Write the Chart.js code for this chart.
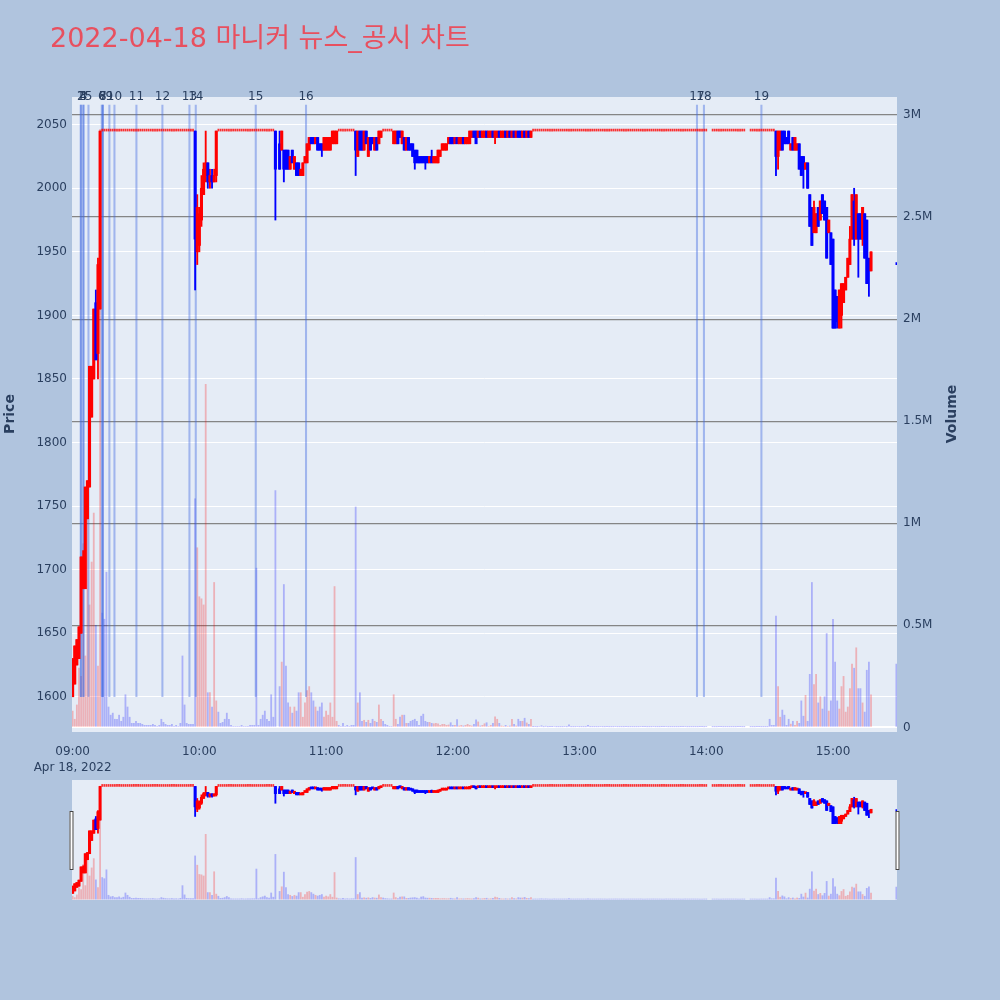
<!DOCTYPE html>
<html>
<head>
<meta charset="utf-8">
<script src="https://cdn.jsdelivr.net/npm/chart.js@4.4.1/dist/chart.umd.min.js"></script>
<style>
  html, body { margin: 0; padding: 0; background: #b0c4de; }
  #wrap { position: relative; width: 1000px; height: 1000px; }
  #main { position: absolute; left: 0; top: 0; }
  #slider { position: absolute; left: 0; top: 770px; }
</style>
</head>
<body>
<div id="wrap">
  <canvas id="main" width="1000" height="1000"></canvas>
  <canvas id="slider" width="1000" height="140"></canvas>
</div>
<script>
// 2022-04-18 마니커 1분봉 + 뉴스/공시 시점
const TITLE = '2022-04-18 마니커 뉴스_공시 차트';
const UPPER_LIMIT = 2045;   // 상한가

// minutes after 09:00 for candles that actually moved
const candleMin = [
  0,1,2,3,4,5,6,7,8,9,10,11,12,13,
  58,59,60,61,62,63,64,65,66,67,68,
  96,98,99,100,101,102,103,104,105,106,107,108,109,110,111,112,113,114,115,116,117,118,119,120,121,122,123,124,125,
  134,135,136,137,138,139,140,141,142,143,144,145,146,
  152,153,154,155,156,157,158,159,160,161,162,163,164,165,166,167,168,169,170,171,
  172,173,174,175,176,177,178,179,180,181,182,183,184,185,186,187,188,189,190,191,
  192,193,194,195,196,197,198,199,200,201,202,203,204,205,206,207,208,209,210,211,
  212,213,214,215,216,217,
  333,334,335,336,337,338,339,340,341,342,343,344,345,346,347,348,349,350,351,352,
  353,354,355,356,357,358,359,360,361,362,363,364,365,366,367,368,369,370,371,372,
  373,374,375,376,377,378,
  390
];
const candleOpen = [
  1600,1610,1625,1630,1650,1685,1685,1740,1765,1820,1850,1910,1870,1905,
  2045,1950,1955,1975,1995,2010,2020,2005,2010,2005,2010,
  2045,2035,2030,2030,2030,2030,2015,2030,2015,2020,2020,2010,2010,2020,2020,2030,2040,2040,2035,2040,2035,2035,2030,2030,2030,2030,2035,2035,2035,
  2045,2025,2045,2045,2030,2045,2025,2040,2040,2030,2040,2035,2040,
  2035,2035,2045,2045,2035,2040,2030,2040,2035,2035,2030,2030,2025,2025,2025,2025,2025,2020,2025,2020,
  2020,2020,2025,2030,2030,2030,2035,2040,2040,2035,2040,2035,2035,2040,2035,2035,2035,2040,2045,2045,
  2040,2045,2040,2040,2045,2040,2040,2045,2040,2040,2045,2040,2040,2045,2040,2045,2040,2045,2040,2045,
  2045,2040,2045,2040,2045,2040,
  2045,2025,2030,2045,2045,2040,2045,2030,2040,2030,2030,2035,2025,2025,2015,2020,1995,1985,1965,1965,
  1985,1975,1995,1990,1985,1965,1965,1960,1920,1915,1890,1900,1910,1920,1930,1940,1960,1990,1960,1980,
  1980,1960,1980,1975,1945,1935,
  1940
];
const candleHigh = [
  1630,1640,1645,1655,1710,1715,1765,1770,1860,1860,1905,1920,1945,2045,
  2045,1995,1985,2010,2020,2045,2020,2015,2015,2015,2045,
  2045,2045,2045,2030,2030,2030,2025,2030,2025,2020,2020,2015,2020,2025,2035,2040,2040,2040,2040,2040,2035,2035,2040,2040,2040,2040,2045,2045,2045,
  2045,2045,2045,2045,2045,2045,2040,2040,2040,2040,2040,2045,2045,
  2045,2045,2045,2045,2045,2040,2040,2040,2035,2035,2030,2030,2025,2025,2025,2025,2025,2025,2030,2025,
  2025,2030,2030,2035,2035,2035,2040,2040,2040,2040,2040,2040,2040,2040,2040,2040,2045,2045,2045,2045,
  2045,2045,2045,2045,2045,2045,2045,2045,2045,2045,2045,2045,2045,2045,2045,2045,2045,2045,2045,2045,
  2045,2045,2045,2045,2045,2045,
  2045,2045,2045,2045,2045,2040,2045,2035,2040,2040,2035,2035,2025,2025,2020,2020,1995,1985,1990,1980,
  1985,1990,1995,1990,1985,1975,1965,1960,1920,1915,1920,1925,1925,1930,1945,1970,1995,2000,1995,1980,
  1980,1985,1980,1975,1945,1950,
  1940
];
const candleLow = [
  1600,1610,1625,1630,1650,1685,1685,1740,1765,1820,1850,1865,1850,1905,
  1920,1940,1950,1970,1995,2005,2000,2000,2000,2005,2005,
  1975,2015,2030,2005,2015,2015,2015,2020,2015,2010,2010,2010,2010,2020,2020,2030,2035,2035,2035,2030,2030,2025,2030,2030,2030,2030,2035,2035,2035,
  2010,2025,2030,2030,2030,2035,2025,2030,2035,2030,2030,2035,2040,
  2035,2035,2035,2040,2035,2030,2030,2030,2030,2025,2015,2020,2020,2020,2020,2015,2020,2020,2020,2020,
  2020,2020,2025,2030,2030,2030,2035,2035,2035,2035,2035,2035,2035,2035,2035,2035,2035,2040,2040,2035,
  2040,2040,2040,2040,2040,2040,2040,2040,2035,2040,2040,2040,2040,2040,2040,2040,2040,2040,2040,2040,
  2040,2040,2040,2040,2040,2040,
  2010,2015,2030,2030,2035,2035,2035,2030,2030,2030,2030,2015,2010,2000,2015,2000,1970,1955,1965,1965,
  1970,1975,1980,1975,1945,1965,1940,1890,1890,1890,1890,1890,1910,1920,1930,1940,1960,1955,1960,1930,
  1960,1955,1945,1925,1915,1935,
  1940
];
const candleClose = [
  1630,1640,1645,1655,1710,1710,1765,1770,1860,1860,1905,1865,1940,2045,
  1960,1985,1980,2000,2015,2020,2005,2010,2005,2010,2045,
  2015,2015,2045,2015,2015,2015,2025,2020,2025,2010,2010,2015,2020,2025,2035,2040,2035,2035,2040,2030,2030,2030,2040,2040,2040,2040,2045,2045,2045,
  2030,2045,2030,2030,2045,2035,2040,2030,2035,2040,2030,2045,2045,
  2045,2045,2035,2040,2045,2030,2040,2030,2030,2025,2020,2020,2020,2020,2020,2020,2020,2025,2020,2025,
  2025,2030,2030,2035,2035,2035,2040,2035,2035,2040,2035,2040,2040,2035,2040,2040,2045,2045,2040,2035,
  2045,2040,2045,2045,2040,2045,2045,2040,2045,2045,2040,2045,2045,2040,2045,2040,2045,2040,2045,2040,
  2040,2045,2040,2045,2040,2045,
  2025,2045,2045,2030,2035,2035,2035,2035,2030,2040,2035,2015,2010,2015,2020,2000,1970,1955,1985,1980,
  1970,1990,1980,1975,1945,1975,1940,1890,1890,1895,1920,1925,1925,1930,1945,1960,1995,1960,1995,1960,
  1960,1985,1945,1925,1935,1950,
  1940
];
// volume, thousand shares
const candleVolK = [
  80,40,110,290,250,900,350,1190,600,810,1050,500,300,2930,
  1120,880,640,630,600,1680,170,170,100,710,130,
  1160,200,320,700,300,120,100,70,100,80,170,170,50,120,180,200,170,130,100,80,100,120,50,80,60,120,50,690,30,
  1080,120,170,30,35,25,35,20,40,30,25,110,40,
  160,40,15,50,60,60,20,20,30,35,40,30,10,55,65,30,25,25,20,18,
  20,18,10,15,15,10,12,23,10,10,38,7,10,7,10,15,10,7,15,37,
  27,7,10,18,23,5,10,20,52,40,20,7,5,10,5,7,40,15,7,40,
  30,30,45,22,15,40,
  545,200,50,85,60,10,40,16,30,10,30,20,130,55,157,30,260,710,210,260,
  120,150,90,150,460,80,130,530,320,130,90,200,250,75,100,190,310,290,390,190,
  190,120,75,280,320,160,
  310
];

// minutes where the stock sat at the upper limit (o = h = l = c)
const limitMin = [
  14,15,16,17,18,19,20,21,22,23,24,25,26,27,28,29,30,31,32,33,34,35,36,37,38,39,40,41,42,43,
  44,45,46,47,48,49,50,51,52,53,54,55,56,57,
  69,70,71,72,73,74,75,76,77,78,79,80,81,82,83,84,85,86,87,88,89,90,91,92,93,94,95,
  126,127,128,129,130,131,132,133,
  147,148,149,150,151,
  218,219,220,221,222,223,224,225,226,227,228,229,230,231,232,233,234,235,236,237,
  238,239,240,241,242,243,244,245,246,247,248,249,250,251,252,253,254,255,256,257,
  258,259,260,261,262,263,264,265,266,267,268,269,270,271,272,273,274,275,276,277,
  278,279,280,281,282,283,284,285,286,287,288,289,290,291,292,293,294,295,296,297,
  298,299,300,303,304,305,306,307,308,309,310,311,312,313,314,315,316,317,318,
  321,322,323,324,325,326,327,328,329,330,331,332
];
const limitVolK = [
  560,530,760,100,60,70,40,40,60,30,50,160,100,50,20,20,30,20,20,15,10,10,10,10,15,10,5,10,40,25,
  15,10,10,15,5,10,5,20,350,110,20,15,15,15,
  75,20,25,40,70,40,10,5,5,5,5,10,5,5,5,10,10,10,780,10,40,60,80,40,30,160,50,
  10,5,20,5,10,5,10,10,
  30,15,10,5,5,
  3,4,3,5,8,3,6,3,3,4,5,3,3,3,3,4,3,13,3,3,
  3,4,3,3,3,3,10,3,3,3,3,3,4,3,3,3,3,3,3,4,
  3,3,3,3,4,3,3,3,3,3,3,4,3,3,3,3,3,4,3,3,
  3,3,3,4,3,3,3,3,3,3,3,3,4,3,3,3,3,3,3,3,
  3,3,4,3,3,3,3,3,3,3,3,3,3,3,3,3,3,3,3,
  3,3,3,3,3,3,3,3,3,40,10,10
];

// news / disclosure times (minutes after 09:00) and their numbers
const newsMin = [3.9, 3.9, 5.1, 5.1, 7.5, 13.8, 14.3, 14.3, 17.4, 19.8, 30.2, 42.5, 55.3, 58.3, 86.7, 110.5, 295.6, 298.9, 326.1];
const newsLabel = ['1','2','3','4','5','6','7','8','9','10','11','12','13','14','15','16','17','18','19'];
const NEWS_BOTTOM = 1600;
const NEWS_TOP = 2065.45;

// axes
const timeTicks = [0, 60, 120, 180, 240, 300, 360];
const timeLabels = ['09:00', '10:00', '11:00', '12:00', '13:00', '14:00', '15:00'];
const DATE_LABEL = 'Apr 18, 2022';
const priceTicks = [1600, 1650, 1700, 1750, 1800, 1850, 1900, 1950, 2000, 2050];
const volTicks = [0, 500, 1000, 1500, 2000, 2500, 3000];
const volLabels = ['0', '0.5M', '1M', '1.5M', '2M', '2.5M', '3M'];

const X_RANGE = [-0.3, 390.3];
const PRICE_RANGE = [1572.3, 2071.8];
const VOL_RANGE = [-22.5, 3088];

const FONT = '"DejaVu Sans", "Noto Sans CJK KR", sans-serif';
const TXT = '#2a3f5f';
const UP = '#ff0000', DOWN = '#0000ff';
const FLAT_UP = 'rgba(255,0,0,0.8)';
const VOL_UP = 'rgba(255,0,0,0.25)', VOL_DOWN = 'rgba(0,0,255,0.25)';
const NEWS_COLOR = 'rgba(65,105,225,0.42)';

// merge both lists in time order
const rows = [];
candleMin.forEach((m, i) => rows.push({ m, o: candleOpen[i], h: candleHigh[i], l: candleLow[i], c: candleClose[i], v: candleVolK[i] }));
limitMin.forEach((m, i) => rows.push({ m, o: UPPER_LIMIT, h: UPPER_LIMIT, l: UPPER_LIMIT, c: UPPER_LIMIT, v: limitVolK[i] }));
rows.sort((a, b) => a.m - b.m);
let prevClose = null;
rows.forEach(r => {
  r.up = r.c > r.o || (r.c === r.o && (prevClose === null || r.c >= prevClose));
  prevClose = r.c;
});
const moving = rows.filter(r => r.o !== r.c || r.h !== r.l);
const flat = rows.filter(r => r.o === r.c && r.h === r.l);

function priceDatasets() {
  return [
    {
      label: 'volume', yAxisID: 'y2', grouped: false, order: 5, barThickness: 1.15,
      data: rows.map(r => ({ x: r.m, y: r.v })),
      backgroundColor: rows.map(r => r.c > r.o ? VOL_UP : VOL_DOWN)
    },
    {
      label: 'wick', yAxisID: 'y', grouped: false, order: 3, barThickness: 1.2,
      data: moving.map(r => ({ x: r.m, y: [r.l, r.h] })),
      backgroundColor: moving.map(r => r.up ? UP : DOWN)
    },
    {
      label: 'body', yAxisID: 'y', grouped: false, order: 2, barThickness: 2.4, minBarLength: 2,
      data: moving.map(r => ({ x: r.m, y: [r.o, r.c] })),
      backgroundColor: moving.map(r => r.up ? UP : DOWN)
    },
    {
      label: 'flat', yAxisID: 'y', grouped: false, order: 1, barThickness: 1.1, minBarLength: 2,
      data: flat.map(r => ({ x: r.m, y: [r.o, r.c] })),
      backgroundColor: flat.map(r => r.up ? FLAT_UP : DOWN)
    }
  ];
}

const plotBg = {
  id: 'plotBg',
  beforeDraw(chart) {
    const { ctx, chartArea: a } = chart;
    ctx.save();
    ctx.fillStyle = '#e5ecf6';
    ctx.fillRect(a.left, a.top, a.right - a.left, a.bottom - a.top);
    ctx.restore();
  }
};

const texts = {
  id: 'texts',
  afterDraw(chart) {
    const { ctx, chartArea: a, scales: { x } } = chart;
    ctx.save();
    ctx.fillStyle = TXT;
    ctx.font = '12px ' + FONT;
    ctx.textAlign = 'center';
    ctx.textBaseline = 'middle';
    newsMin.forEach((t, i) => ctx.fillText(newsLabel[i], x.getPixelForValue(t), a.top));

    ctx.font = 'bold 14px ' + FONT;
    ctx.save(); ctx.translate(10, 414); ctx.rotate(-Math.PI / 2); ctx.fillText('Price', 0, 0); ctx.restore();
    ctx.save(); ctx.translate(952, 414); ctx.rotate(-Math.PI / 2); ctx.fillText('Volume', 0, 0); ctx.restore();

    ctx.fillStyle = '#e8505f';
    ctx.font = '27px ' + FONT;
    ctx.textAlign = 'left';
    ctx.fillText(TITLE, 50, 40);
    ctx.restore();
  }
};

const newsSet = {
  label: 'news', yAxisID: 'y', grouped: false, order: 4, barThickness: 1.4,
  data: newsMin.map(t => ({ x: t, y: [NEWS_BOTTOM, NEWS_TOP] })),
  backgroundColor: NEWS_COLOR
};

new Chart(document.getElementById('main'), {
  type: 'bar',
  data: { datasets: [newsSet, ...priceDatasets()] },
  options: {
    responsive: false,
    animation: false,
    layout: { padding: { top: 97, left: 0, right: 0, bottom: 0 } },
    plugins: { legend: { display: false }, tooltip: { enabled: false } },
    scales: {
      x: {
        type: 'linear', min: X_RANGE[0], max: X_RANGE[1], offset: false,
        grid: { display: false }, border: { display: false },
        afterBuildTicks: s => { s.ticks = timeTicks.map(v => ({ value: v })); },
        afterFit: s => { s.height = 268; },
        ticks: {
          autoSkip: false, maxRotation: 0, padding: 4, color: TXT,
          font: { family: FONT, size: 12, lineHeight: 1.35 },
          callback: v => {
            const lbl = timeLabels[timeTicks.indexOf(v)];
            return v === timeTicks[0] ? [lbl, DATE_LABEL] : lbl;
          }
        }
      },
      y: {
        position: 'left', min: PRICE_RANGE[0], max: PRICE_RANGE[1],
        grid: { color: '#ffffff', lineWidth: 1, drawTicks: false }, border: { display: false },
        afterBuildTicks: s => { s.ticks = priceTicks.map(v => ({ value: v })); },
        afterFit: s => { s.width = 72; },
        ticks: { padding: 5, color: TXT, font: { family: FONT, size: 12 }, callback: v => String(v) }
      },
      y2: {
        position: 'right', min: VOL_RANGE[0], max: VOL_RANGE[1],
        grid: {
          color: c => c.tick && c.tick.value === 0 ? '#ffffff' : '#858585',
          lineWidth: c => c.tick && c.tick.value === 0 ? 2 : 1.2,
          drawTicks: false
        },
        border: { display: false },
        afterBuildTicks: s => { s.ticks = volTicks.map(v => ({ value: v })); },
        afterFit: s => { s.width = 103; },
        ticks: {
          padding: 6, color: TXT, font: { family: FONT, size: 12 },
          callback: v => volLabels[volTicks.indexOf(v)]
        }
      }
    }
  },
  plugins: [plotBg, texts]
});

const handles = {
  id: 'handles',
  afterDraw(chart) {
    const { ctx, chartArea: a } = chart;
    ctx.save();
    ctx.fillStyle = '#ffffff';
    ctx.strokeStyle = '#444444';
    ctx.lineWidth = 1;
    [a.left - 2.5, a.right - 1.5].forEach(x0 => {
      ctx.fillRect(x0, a.top + 31, 4, 59);
      ctx.strokeRect(x0 + 0.5, a.top + 31.5, 3, 58);
    });
    ctx.restore();
  }
};

new Chart(document.getElementById('slider'), {
  type: 'bar',
  data: { datasets: priceDatasets() },
  options: {
    responsive: false,
    animation: false,
    layout: { padding: { top: 10, left: 72, right: 103, bottom: 10 } },
    plugins: { legend: { display: false }, tooltip: { enabled: false } },
    scales: {
      x: { type: 'linear', display: false, min: X_RANGE[0], max: X_RANGE[1], offset: false },
      y: { display: false, min: PRICE_RANGE[0], max: PRICE_RANGE[1] },
      y2: { display: false, min: VOL_RANGE[0], max: VOL_RANGE[1] }
    }
  },
  plugins: [plotBg, handles]
});
</script>
</body>
</html>
